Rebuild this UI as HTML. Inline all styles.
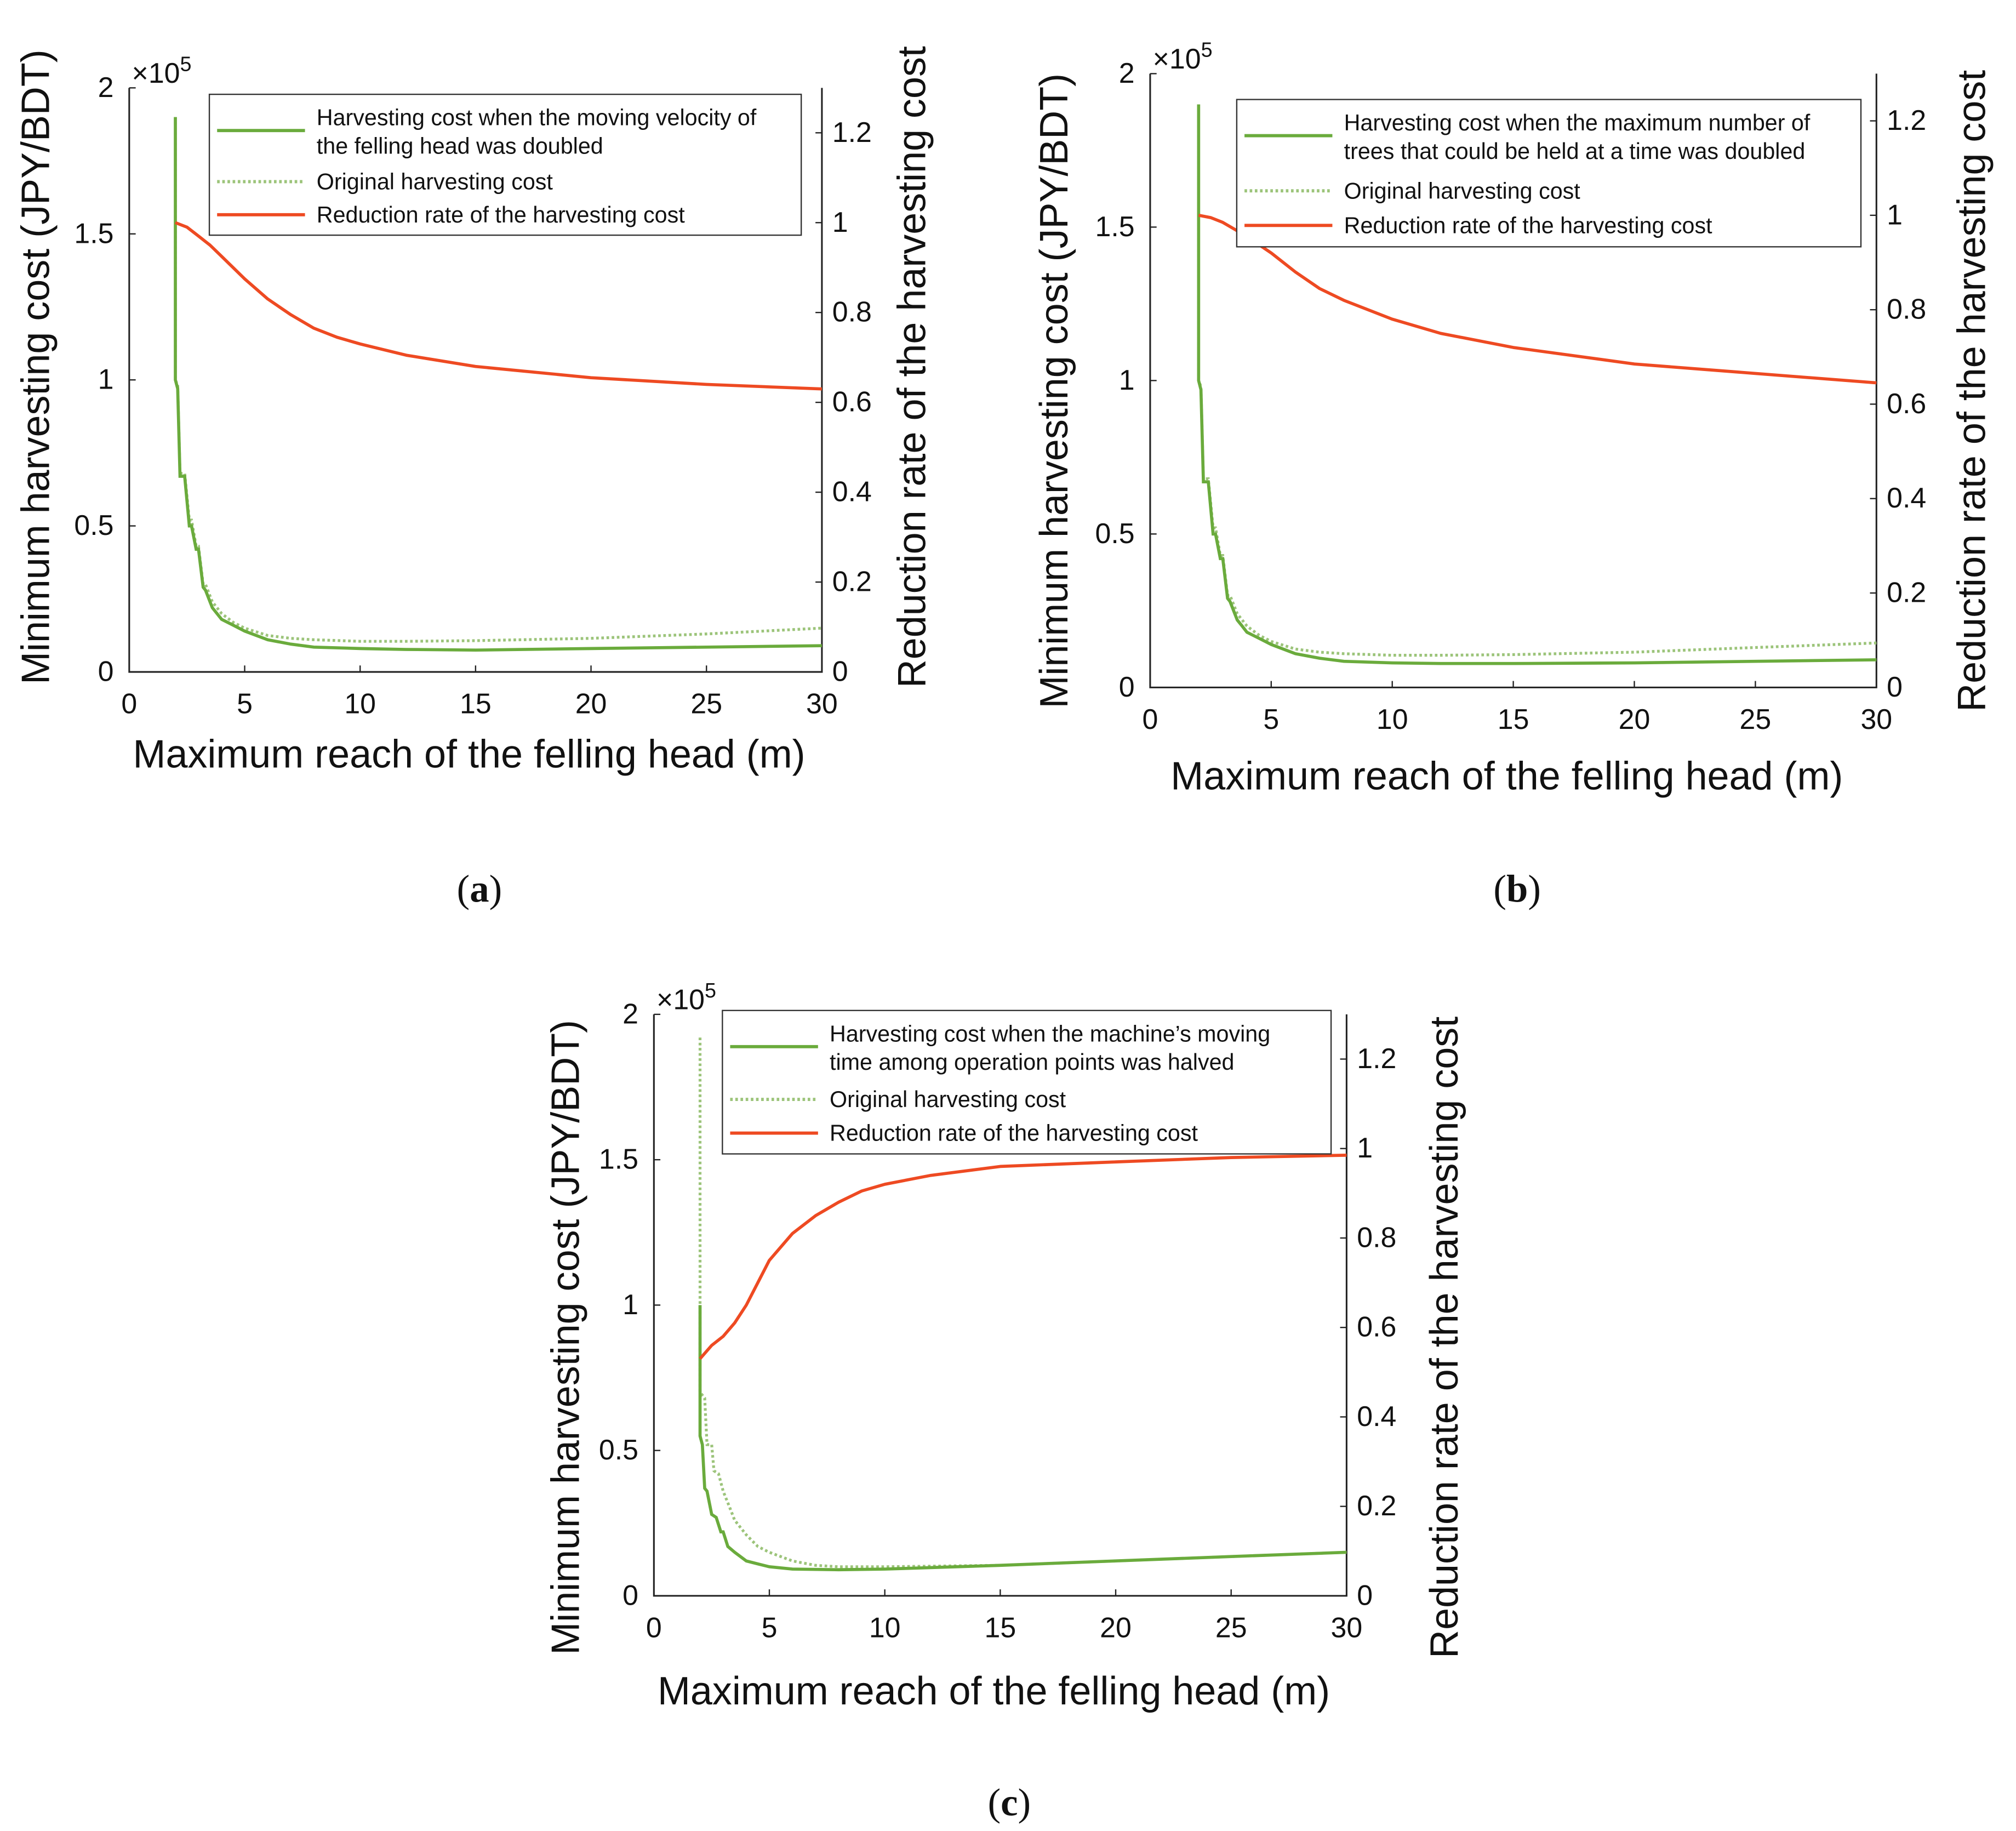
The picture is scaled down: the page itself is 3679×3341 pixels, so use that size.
<!DOCTYPE html>
<html><head><meta charset="utf-8">
<style>
html,body{margin:0;padding:0;background:#fff;}
svg{display:block;}
text{font-family:"Liberation Sans",sans-serif;fill:#111;}
.cap{font-family:"Liberation Serif",serif;}
</style></head>
<body>
<svg id="fig" width="3679" height="3341" viewBox="0 0 1560 1417" preserveAspectRatio="none" xmlns="http://www.w3.org/2000/svg">
<rect width="1560" height="1417" fill="#fff"/>
</svg>
<script>
// ---- data (x in m, cost in 1e5 JPY/BDT, rate unitless) ----
const xTicks = [0,5,10,15,20,25,30];
const yLeftTicks = [0,0.5,1,1.5,2];
const yLeftLabels = ["0","0.5","1","1.5","2"];
const yRightTicks = [0,0.2,0.4,0.6,0.8,1,1.2];
const yRightLabels = ["0","0.2","0.4","0.6","0.8","1","1.2"];

const aNewX = [2,2,2.1,2.2,2.4,2.6,2.7,2.9,3,3.2,3.3,3.6,3.8,4,4.5,5,6,7,8,10,12,15,20,25,30];
const aNewY = [1.9,1.0,0.97,0.67,0.67,0.5,0.5,0.42,0.42,0.29,0.28,0.22,0.2,0.18,0.16,0.14,0.11,0.095,0.085,0.08,0.077,0.075,0.08,0.085,0.09];
const aOrigX = [2,2,2.1,2.2,2.4,2.6,2.7,2.9,3,3.2,3.3,3.6,3.8,4,4.5,5,6,7,8,10,12,15,20,25,30];
const aOrigY = [1.9,1.0,0.98,0.68,0.68,0.52,0.52,0.43,0.43,0.3,0.3,0.24,0.22,0.2,0.17,0.15,0.125,0.115,0.11,0.105,0.105,0.107,0.115,0.13,0.15];
const aRateX = [2,2.5,3,3.5,4,5,6,7,8,9,10,12,15,20,25,30];
const aRateY = [1.0,0.99,0.97,0.95,0.925,0.875,0.83,0.795,0.765,0.745,0.73,0.705,0.68,0.655,0.64,0.63];

const bNewX = aNewX;
const bNewY = [1.9,1.0,0.97,0.67,0.67,0.5,0.5,0.42,0.42,0.29,0.28,0.22,0.2,0.18,0.16,0.14,0.11,0.095,0.085,0.08,0.078,0.078,0.08,0.085,0.09];
const bOrigX = aOrigX;
const bOrigY = [1.9,1.0,0.98,0.68,0.68,0.52,0.52,0.43,0.43,0.3,0.3,0.24,0.22,0.2,0.17,0.15,0.125,0.115,0.11,0.105,0.105,0.107,0.115,0.13,0.145];
const bRateX = [2,2.5,3,3.5,4,5,6,7,8,10,12,15,20,25,30];
const bRateY = [1.0,0.995,0.985,0.97,0.955,0.92,0.88,0.845,0.82,0.78,0.75,0.72,0.685,0.665,0.645];

const cNewX = [2,2,2.1,2.2,2.3,2.5,2.7,2.9,3,3.2,3.5,4,4.5,5,6,8,10,15,20,25,30];
const cNewY = [1.0,0.55,0.52,0.37,0.36,0.28,0.27,0.22,0.22,0.17,0.15,0.12,0.11,0.1,0.092,0.09,0.092,0.105,0.12,0.135,0.15];
const cOrigX = [2,2,2.2,2.3,2.5,2.6,2.8,3,3.3,3.5,4,4.5,5,6,7,8,10,15,20,25,30];
const cOrigY = [1.92,0.7,0.68,0.52,0.52,0.43,0.42,0.36,0.3,0.26,0.21,0.17,0.15,0.12,0.105,0.1,0.1,0.105,0.12,0.135,0.15];
const cRateX = [2,2.5,3,3.5,4,4.5,5,6,7,8,9,10,12,15,20,25,30];
const cRateY = [0.53,0.56,0.58,0.61,0.65,0.70,0.75,0.81,0.85,0.88,0.905,0.92,0.94,0.96,0.97,0.98,0.985];

const NS = "http://www.w3.org/2000/svg";
const svg = document.getElementById('fig');
function mk(tag, attrs, parent, txt){
  const e = document.createElementNS(NS, tag);
  for (const k in attrs) e.setAttribute(k, attrs[k]);
  if (txt !== undefined) e.textContent = txt;
  (parent||svg).appendChild(e);
  return e;
}

const GREEN = "#6aab3c", GREEN_D = "#9cc47a", RED = "#ee4a22";

function panel(id, L, R, T, B, newX, newY, origX, origY, rateX, rateY, legend, labels){
  const g = mk('g', {});
  
  
  const sx = v => L + (v/30)*(R-L);
  const syL = v => B - (v/2)*(B-T);
  const syR = v => B - (v/1.3)*(B-T);
  const ax = mk('path', {d:`M${L},${T} V${B} H${R} V${T}`, fill:'none', stroke:'#222', 'stroke-width':1.3}, g);
  
  
  xTicks.forEach(v=>{
    mk('line',{x1:sx(v),x2:sx(v),y1:B,y2:B-5,stroke:'#222','stroke-width':1},g);
    const t = mk('text',{x:sx(v),y:B+32,'font-size':22,'text-anchor':'middle'},g,String(v));
    
    
  });
  yLeftTicks.forEach((v,i)=>{
    mk('line',{x1:L,x2:L+5,y1:syL(v),y2:syL(v),stroke:'#222','stroke-width':1},g);
    const t = mk('text',{x:L-12,y:syL(v)+7,'font-size':22,'text-anchor':'end'},g,yLeftLabels[i]);
    
    
  });
  yRightTicks.forEach((v,i)=>{
    mk('line',{x1:R,x2:R-5,y1:syR(v),y2:syR(v),stroke:'#222','stroke-width':1},g);
    const t = mk('text',{x:R+8,y:syR(v)+7,'font-size':22,'text-anchor':'start'},g,yRightLabels[i]);
    
    
  });
  const ex = mk('text',{x:L+2,y:T-4,'font-size':22},g);
  
  
  ex.innerHTML = '\u00d710<tspan dy="-9" font-size="16">5</tspan>';
  const pts = (xs,ys,fy)=>xs.map((x,i)=>`${sx(x).toFixed(1)},${fy(ys[i]).toFixed(1)}`).join(' ');
  const so = mk('polyline',{points:pts(origX,origY,syL),fill:'none',stroke:GREEN_D,'stroke-width':2.2,'stroke-dasharray':'2 2'},g);
  
  
  const sn = mk('polyline',{points:pts(newX,newY,syL),fill:'none',stroke:GREEN,'stroke-width':2.4},g);
  
  
  const sr = mk('polyline',{points:pts(rateX,rateY,syR),fill:'none',stroke:RED,'stroke-width':2.4,'stroke-linejoin':'round'},g);
  
  
  const lg = mk('g',{},g);
  
  
  mk('rect',{x:legend.x,y:legend.y,width:legend.w,height:legend.h,fill:'#fff',stroke:'#333','stroke-width':1},lg);
  const lx1 = legend.x+6, lx2 = legend.x+74, tx = legend.x+83;
  mk('line',{x1:lx1,x2:lx2,y1:legend.y+28,y2:legend.y+28,stroke:GREEN,'stroke-width':2.5},lg);
  mk('text',{x:tx,y:legend.y+24,'font-size':17.5},lg,legend.t1);
  mk('text',{x:tx,y:legend.y+46,'font-size':17.5},lg,legend.t2);
  mk('line',{x1:lx1,x2:lx2,y1:legend.y+legend.h*0.62,y2:legend.y+legend.h*0.62,stroke:GREEN_D,'stroke-width':2.5,'stroke-dasharray':'2 2'},lg);
  mk('text',{x:tx,y:legend.y+legend.h*0.62+6,'font-size':17.5},lg,'Original harvesting cost');
  mk('line',{x1:lx1,x2:lx2,y1:legend.y+legend.h*0.855,y2:legend.y+legend.h*0.855,stroke:RED,'stroke-width':2.5},lg);
  mk('text',{x:tx,y:legend.y+legend.h*0.855+6,'font-size':17.5},lg,'Reduction rate of the harvesting cost');
  const yl = mk('text',{x:0,y:0,'font-size':30.5,'text-anchor':'middle',transform:`translate(${labels.ylx},${(T+B)/2+labels.dy}) rotate(-90)`},g,'Minimum harvesting cost (JPY/BDT)');
  
  
  const yr = mk('text',{x:0,y:0,'font-size':30.5,'text-anchor':'middle',transform:`translate(${labels.yrx},${(T+B)/2+labels.dy}) rotate(-90)`},g,'Reduction rate of the harvesting cost');
  
  
  const xl = mk('text',{x:(L+R)/2-5,y:B+labels.xly,'font-size':30.5,'text-anchor':'middle'},g,'Maximum reach of the felling head (m)');
  
  
  const cp = mk('text',{x:labels.cx,y:labels.cy,'font-size':30,'text-anchor':'middle','class':'cap'},g);
  
  
  cp.innerHTML = '(<tspan font-weight="bold">'+id+'</tspan>)';
}

panel('a',100,636,68,520,aNewX,aNewY,aOrigX,aOrigY,aRateX,aRateY,
  {x:162,y:73,w:458,h:109,t1:'Harvesting cost when the moving velocity of',t2:'the felling head was doubled'},
  {ylx:38,yrx:716,dy:-10,xly:74,cx:371,cy:698});
panel('b',890,1452,57,532,bNewX,bNewY,bOrigX,bOrigY,bRateX,bRateY,
  {x:957,y:77,w:483,h:114,t1:'Harvesting cost when the maximum number of',t2:'trees that could be held at a time was doubled'},
  {ylx:826,yrx:1536,dy:8,xly:79,cx:1174,cy:698});
panel('c',506,1042,785,1235,cNewX,cNewY,cOrigX,cOrigY,cRateX,cRateY,
  {x:559,y:782,w:471,h:111,t1:'Harvesting cost when the machine\u2019s moving',t2:'time among operation points was halved'},
  {ylx:448,yrx:1128,dy:25,xly:84,cx:781,cy:1405});
</script>
</body></html>
